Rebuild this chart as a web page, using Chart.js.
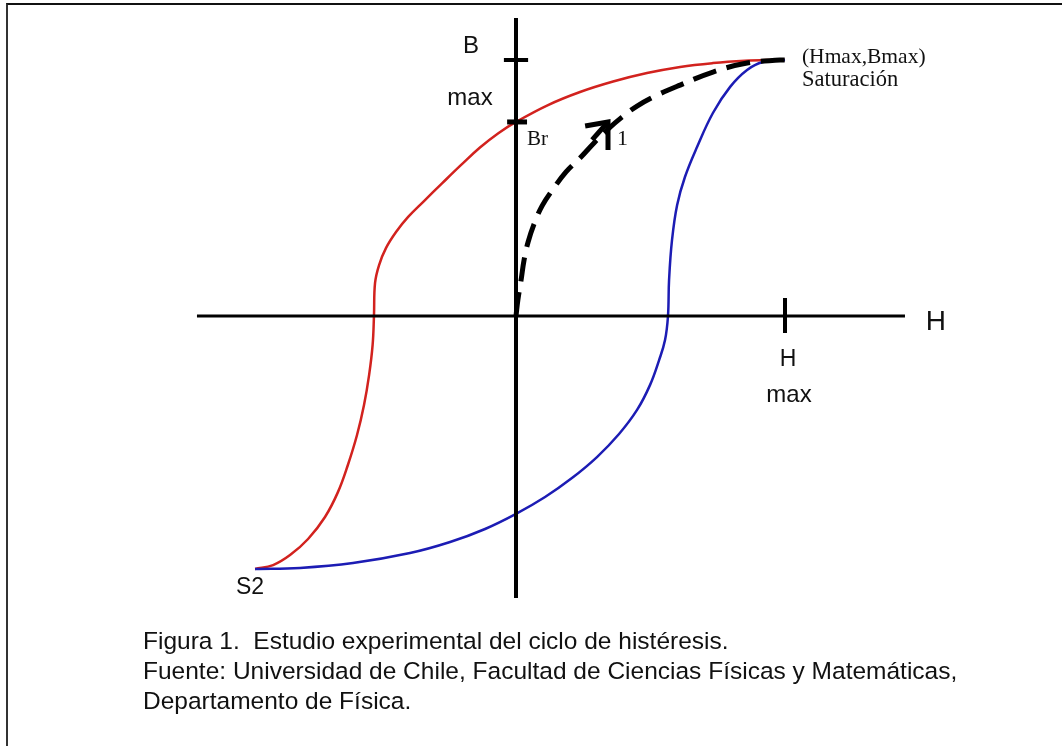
<!DOCTYPE html>
<html lang="es">
<head>
<meta charset="utf-8">
<title>Ciclo de histéresis</title>
<script src="https://cdn.jsdelivr.net/npm/chart.js@4/dist/chart.umd.min.js"></script>
<style>
  html, body { margin: 0; padding: 0; background: #fff; }
  .page { position: relative; width: 1062px; height: 746px; overflow: hidden; }
  .frame { position: absolute; left: 6px; top: 3px; width: 1100px; height: 800px;
           border-top: 2px solid #111; border-left: 2px solid #333; }
  #chart { position: absolute; left: 0; top: 0; }
  .caption { position: absolute; left: 143px; top: 626px; color: #111;
             font: 24.5px "Liberation Sans", Arial, sans-serif; line-height: 30px; }
</style>
</head>
<body>
<div class="page">
  <div class="frame"></div>
  <canvas id="chart" width="1062" height="746"></canvas>
  <div class="caption">
    Figura 1.&nbsp; Estudio experimental del ciclo de histéresis.<br>
    Fuente: Universidad de Chile, Facultad de Ciencias Físicas y Matemáticas,<br>
    Departamento de Física.
  </div>
</div>
<script>
;(function () {
  'use strict'

  // H in units of Hmax, B in units of Bmax

  // descending branch: saturation -> S2
  const redH = [1.000, 0.944, 0.851, 0.732, 0.610, 0.487, 0.361, 0.238, 0.119, 0.000, -0.067,
                -0.134, -0.204, -0.275, -0.342, -0.401, -0.446, -0.483, -0.509, -0.524, -0.528,
                -0.533, -0.546, -0.565, -0.591, -0.625, -0.662, -0.710, -0.773, -0.840, -0.903, -0.970]
  const redB = [1.000, 1.000, 0.997, 0.988, 0.973, 0.949, 0.916, 0.875, 0.824, 0.758, 0.713,
                0.658, 0.590, 0.518, 0.449, 0.387, 0.328, 0.266, 0.199, 0.129, 0.000,
                -0.113, -0.230, -0.348, -0.465, -0.582, -0.688, -0.785, -0.871, -0.934, -0.973, -0.988]

  // ascending branch: S2 -> saturation
  const blueH = [-0.970, -0.803, -0.606, -0.394, -0.245, -0.115, 0.000, 0.108, 0.208, 0.301, 0.383,
                 0.450, 0.498, 0.532, 0.554, 0.565, 0.569, 0.580, 0.599, 0.628, 0.673, 0.732,
                 0.796, 0.859, 0.918, 1.000]
  const blueB = [-0.988, -0.984, -0.965, -0.926, -0.883, -0.832, -0.773, -0.707, -0.633, -0.551, -0.461,
                 -0.367, -0.270, -0.172, -0.094, 0.000, 0.141, 0.297, 0.434, 0.543, 0.660, 0.793,
                 0.895, 0.961, 0.992, 1.000]

  // first magnetization curve (dashed)
  const firstH = [0.000, 0.007, 0.019, 0.030, 0.045, 0.067, 0.097, 0.138, 0.186, 0.238, 0.290,
                  0.342, 0.394, 0.450, 0.517, 0.610, 0.732, 0.859, 0.981, 1.000]
  const firstB = [0.000, 0.063, 0.141, 0.219, 0.289, 0.359, 0.430, 0.496, 0.563, 0.617, 0.676,
                  0.730, 0.777, 0.820, 0.859, 0.902, 0.953, 0.988, 1.000, 1.000]

  // arrow "1" on the first magnetization curve
  const arrowH = [0.257, 0.342, 0.342]
  const arrowB = [0.742, 0.758, 0.648]
  const shaftH = [0.283, 0.342]
  const shaftB = [0.688, 0.758]

  // axes and ticks
  const axisH = [-1.186, 1.446]
  const axisB = [1.164, -1.102]
  const Br = 0.758
  const Bmax = 1
  const Hmax = 1
  const tickHalf = 0.045

  function pts(hs, bs) {
    return hs.map((h, i) => ({ x: h, y: bs[i] }))
  }

  function line(data, color, width, extra) {
    return Object.assign({
      data, borderColor: color, borderWidth: width, showLine: true,
      pointRadius: 0, fill: false, tension: 0,
    }, extra || {})
  }

  function curve(data, color, width, extra) {
    return line(data, color, width, Object.assign({ tension: 0.4 }, extra || {}))
  }

  const sans = '"Liberation Sans", Arial, sans-serif'
  const serif = '"Liberation Serif", "Times New Roman", serif'

  const labels = [
    { text: 'B', h: -0.167, b: 1.055, font: '24px ' + sans },
    { text: 'max', h: -0.171, b: 0.852, font: '24px ' + sans },
    { text: 'Br', h: 0.041, b: 0.688, font: '21px ' + serif, align: 'left' },
    { text: '1', h: 0.375, b: 0.691, font: '22px ' + serif, align: 'left' },
    { text: '(Hmax,Bmax)', h: 1.063, b: 1.012, font: '21.5px ' + serif, align: 'left' },
    { text: 'Saturación', h: 1.063, b: 0.922, font: '22.5px ' + serif, align: 'left' },
    { text: 'H', h: 1.561, b: -0.023, font: '28px ' + sans },
    { text: 'H', h: 1.011, b: -0.172, font: '23px ' + sans },
    { text: 'max', h: 1.015, b: -0.309, font: '24px ' + sans },
    { text: 'S2', h: -0.989, b: -1.063, font: '23px ' + sans },
  ]

  const textPlugin = {
    id: 'axisText',
    afterDatasetsDraw(chart) {
      const { ctx, scales: { x, y } } = chart
      ctx.save()
      ctx.fillStyle = '#111'
      ctx.textBaseline = 'middle'
      labels.forEach(l => {
        ctx.font = l.font
        ctx.textAlign = l.align || 'center'
        ctx.fillText(l.text, x.getPixelForValue(l.h), y.getPixelForValue(l.b))
      })
      ctx.restore()
    },
  }

  const datasets = [
    curve(pts(firstH, firstB), '#000', 5, { borderDash: [24, 11] }),
    line(pts(arrowH, arrowB), '#000', 5),
    line(pts(shaftH, shaftB), '#000', 5),
    line(pts([0 - tickHalf, 0 + tickHalf], [Bmax, Bmax]), '#000', 4),
    line(pts([-0.033, 0.041], [Br, Br]), '#000', 5),
    line(pts([Hmax, Hmax], [0.070, -0.066]), '#000', 4),
    line(pts(axisH, [0, 0]), '#000', 3),
    line(pts([0, 0], axisB), '#000', 4),
    curve(pts(blueH, blueB), '#1c1cb4', 2.5),
    curve(pts(redH, redB), '#d2221e', 2.5),
  ]

  new Chart(document.getElementById('chart'), {
    type: 'scatter',
    data: { datasets },
    options: {
      responsive: false,
      animation: false,
      layout: { padding: 0 },
      plugins: { legend: { display: false }, tooltip: { enabled: false } },
      scales: {
        x: { type: 'linear', display: false, min: -1.9182, max: 2.0297 },
        y: { type: 'linear', display: false, min: -1.6797, max: 1.2344 },
      },
    },
    plugins: [textPlugin],
  })
})()
</script>
</body>
</html>
